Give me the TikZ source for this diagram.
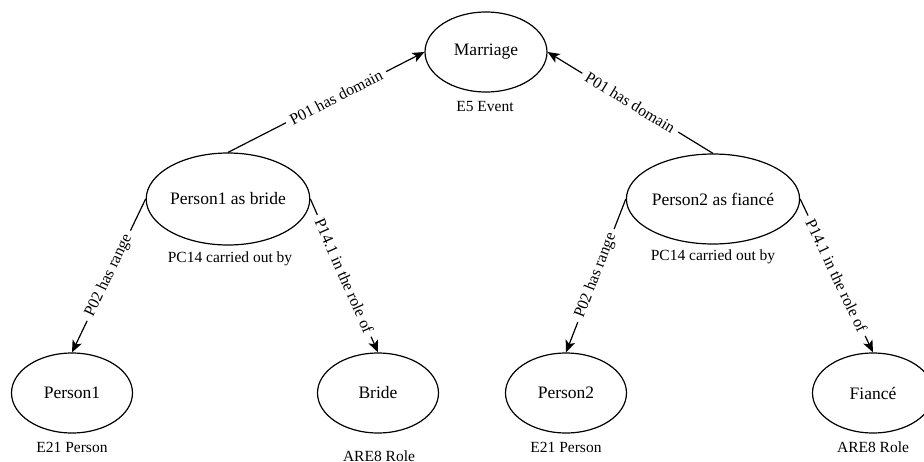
\documentclass[tikz,border=0pt]{standalone}
\usepackage{fontspec}
\setmainfont{Liberation Serif}
\usetikzlibrary{shapes.geometric,arrows.meta}
\tikzset{>={Stealth[length=12pt,width=10pt,inset=3pt]}}

\begin{document}
\begin{tikzpicture}
    [
      x=1pt, y=-1pt,
      entity/.style={ellipse, draw, line width=1.2pt, inner sep=0pt, minimum width=121pt, minimum height=80pt, font=\fontsize{17.5}{19}\selectfont},
      role/.style={entity, minimum width=141pt, minimum height=92pt},
      arr/.style={->, draw, line width=1.2pt},
      prop/.style={sloped, fill=white, inner sep=5pt, font=\fontsize{16}{18}\selectfont},
      cls/.style={font=\fontsize{15.5}{17}\selectfont}
    ]
    \useasboundingbox (0,0) rectangle (924,461);
    \node (marriage) [entity, minimum width=122pt] at (486,52) {Marriage};
    \node (bride-role) [role] at (228,199) {Person1 as bride};
    \node (fiance-role) [role, minimum width=148pt, minimum height=90pt] at (713,199) {Person2 as fiancé};
    \node (person1) [entity] at (72,393) {Person1};
    \node (bride) [entity] at (378,393) {Bride};
    \node (person2) [entity] at (566,393) {Person2};
    \node (fiance) [entity] at (873,393) {Fiancé};

    \node (marriage-cls) [cls] at (485,106) {E5 Event};
    \node (bride-role-cls) [cls] at (230,259) {PC14 carried out by};
    \node (fiance-role-cls) [cls] at (713,257) {PC14 carried out by};
    \node (person1-cls) [cls] at (72,447) {E21 Person};
    \node (bride-cls) [cls] at (379,456) {ARE8 Role};
    \node (person2-cls) [cls] at (566,447) {E21 Person};
    \node (fiance-cls) [cls] at (873,447) {ARE8 Role};

    \draw [arr] (bride-role.north) -- node[prop, pos=0.55] {P01 has domain} (marriage.west);
    \draw [arr] (fiance-role.north) -- node[prop] {P01 has domain} (marriage.east);

    \draw [arr] (bride-role.west) -- node[prop] {P02 has range} (person1.north);
    \draw [arr] (bride-role.east) -- node[prop] {P14.1 in the role of} (bride.north);
    \draw [arr] (fiance-role.west) -- node[prop] {P02 has range} (person2.north);
    \draw [arr] (fiance-role.east) -- node[prop] {P14.1 in the role of} (fiance.north);
\end{tikzpicture}
\end{document}
